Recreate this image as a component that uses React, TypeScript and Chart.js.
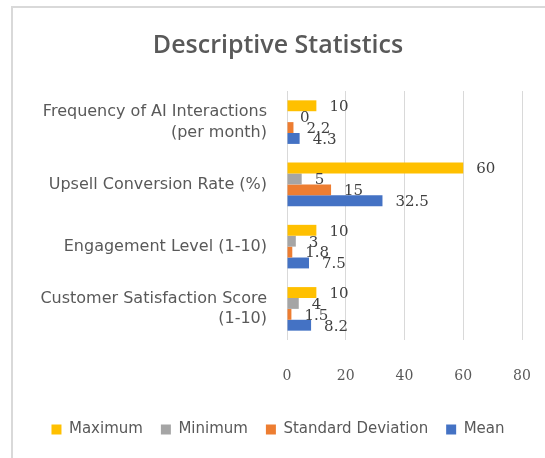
import React, { useEffect, useRef } from 'react';
import { Chart, registerables } from 'chart.js';

Chart.register(...registerables);

const categories: (string | string[])[] = [
  ['Frequency of AI Interactions', '(per month)'],
  'Upsell Conversion Rate (%)',
  'Engagement Level (1-10)',
  ['Customer Satisfaction Score', '(1-10)'],
];
const seriesNames = ['Maximum', 'Minimum', 'Standard Deviation', 'Mean'];
const maximum = [10, 60, 10, 10];
const minimum = [0, 5, 3, 4];
const stdDev = [2.2, 15, 1.8, 1.5];
const mean = [4.3, 32.5, 7.5, 8.2];
const xMin = 0;
const xMax = 80;
const xStep = 20;

const colors = ['#FFC000', '#A5A5A5', '#ED7D31', '#4472C4'];

const PAD_LEFT = 11;
const PLOT_LEFT = 287;

const valueLabels = {
  id: 'valueLabels',
  afterDatasetsDraw(chart: any) {
    const ctx = chart.ctx;
    ctx.save();
    ctx.font = '15px "DejaVu Serif"';
    ctx.fillStyle = '#404040';
    ctx.textAlign = 'left';
    ctx.textBaseline = 'middle';
    chart.data.datasets.forEach((ds: any, i: number) => {
      const meta = chart.getDatasetMeta(i);
      meta.data.forEach((bar: any, j: number) => {
        ctx.fillText(String(ds.data[j]), bar.x + 13, bar.y + 1.5);
      });
    });
    ctx.restore();
  },
};

export default function App() {
  const ref = useRef<HTMLCanvasElement>(null);
  useEffect(() => {
    if (!ref.current) return;
    const allSeries = [maximum, minimum, stdDev, mean];
    const chart = new Chart(ref.current, {
      type: 'bar',
      data: {
        labels: categories,
        datasets: allSeries.map((d, i) => ({
          label: seriesNames[i],
          data: d,
          backgroundColor: colors[i],
          borderWidth: 0,
          barPercentage: 1,
          categoryPercentage: 0.7,
        })),
      },
      options: {
        indexAxis: 'y',
        responsive: false,
        animation: false,
        layout: { padding: { left: PAD_LEFT, right: 0, top: 21, bottom: 11 } },
        plugins: {
          tooltip: { enabled: false },
          title: {
            display: true,
            text: 'Descriptive Statistics',
            color: '#595959',
            font: { family: '"Open Sans"', size: 25, weight: '600' },
            padding: { top: 10, bottom: 30 },
          },
          legend: {
            position: 'bottom',
            labels: {
              color: '#595959',
              font: { family: '"DejaVu Sans"', size: 15 },
              boxWidth: 10,
              boxHeight: 10,
              padding: 18,
            },
          },
        },
        scales: {
          x: {
            min: xMin,
            max: xMax,
            ticks: {
              stepSize: xStep,
              color: '#595959',
              font: { family: '"DejaVu Serif"', size: 14 },
              padding: 28,
            },
            grid: { color: '#D9D9D9', drawTicks: false },
            border: { display: false },
            afterFit: (scale: any) => {
              scale.paddingLeft = 0;
              scale.paddingRight = 23;
              scale.height = 64;
            },
          },
          y: {
            ticks: {
              color: '#595959',
              font: { family: '"DejaVu Sans"', size: 16, lineHeight: 1.3 },
              padding: 20,
            },
            grid: { display: false, drawTicks: false },
            border: { display: false },
            afterFit: (scale: any) => {
              scale.width = PLOT_LEFT - PAD_LEFT;
            },
          },
        },
      },
      plugins: [valueLabels],
    });
    return () => chart.destroy();
  }, []);

  return (
    <div style={{ position: 'fixed', inset: 0, overflow: 'hidden', background: '#fff' }}>
      <div
        style={{
          position: 'absolute',
          left: 11,
          top: 6,
          width: 600,
          height: 500,
          border: '2px solid #D9D9D9',
          boxSizing: 'border-box',
        }}
      />
      <canvas ref={ref} width={545} height={458} style={{ position: 'absolute', left: 0, top: 0 }} />
    </div>
  );
}
